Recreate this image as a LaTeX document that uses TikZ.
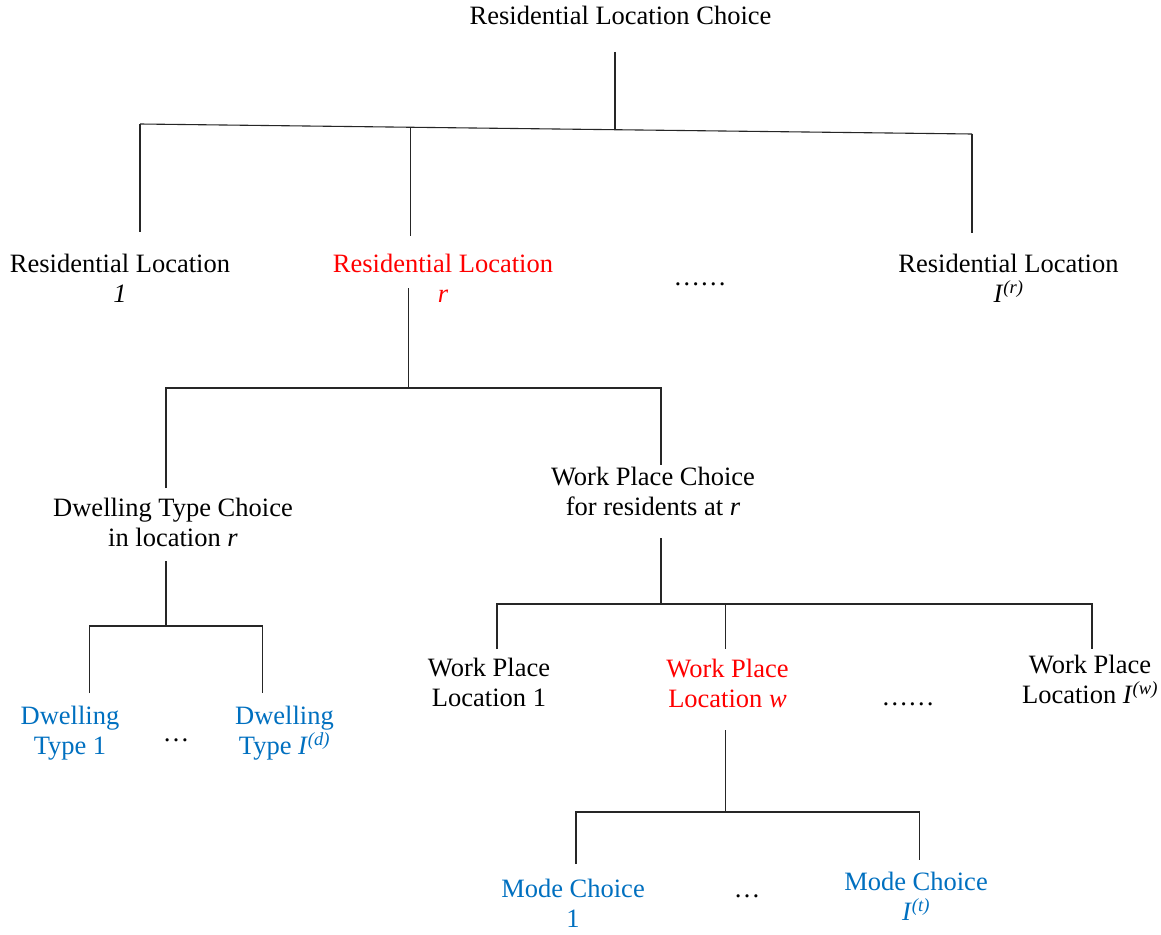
\documentclass[tikz,border=0pt]{standalone}
\usepackage{fontspec}
\setmainfont{Liberation Serif}
\definecolor{myred}{RGB}{255,0,0}
\definecolor{myblue}{RGB}{0,112,192}
\begin{document}
\begin{tikzpicture}[x=1pt,y=-1pt,
  lbl/.style={anchor=base, align=center, inner sep=0pt, font=\fontsize{26.5}{30.5}\selectfont},
  redlbl/.style={lbl, text=myred},
  bluelbl/.style={lbl, text=myblue},
  conn/.style={draw=black!85, line width=1.1pt}]
\useasboundingbox[fill=white] (0,0) rectangle (1161,934);

% ---- nodes (positions = baseline of last line) ----
\node[lbl] (root) at (620.5,25) {Residential Location Choice};
\node[lbl] (rl1) at (120,302.5) {Residential Location\\\textit{1}};
\node[redlbl] (rlr) at (443,302.5) {Residential Location\\\textit{r}};
\node[lbl] (dots1) at (700,285) {……};
\node[lbl] (rlI) at (1008.5,302.5) {Residential Location\\\textit{I}\textsuperscript{\textit{(r)}}};

\node[lbl] (dtc) at (173,546.5) {Dwelling Type Choice\\in location \textit{r}};
\node[lbl] (wpc) at (653,515.5) {Work Place Choice\\for residents at \textit{r}};

\node[bluelbl] (dt1) at (70,754.5) {Dwelling\\Type 1};
\node[lbl] (dots2) at (176,741) {…};
\node[bluelbl] (dtI) at (284.5,754.5) {Dwelling\\Type \textit{I}\textsuperscript{\textit{(d)}}};

\node[lbl] (wp1) at (489,706.5) {Work Place\\Location 1};
\node[redlbl] (wpw) at (727.5,707.5) {Work Place\\Location \textit{w}};
\node[lbl] (dots3) at (908,705) {……};
\node[lbl] (wpI) at (1090,703.5) {Work Place\\Location \textit{I}\textsuperscript{\textit{(w)}}};

\node[bluelbl] (mc1) at (573,927.5) {Mode Choice\\1};
\node[lbl] (dots4) at (747,897) {…};
\node[bluelbl] (mcI) at (916,920.5) {Mode Choice\\\textit{I}\textsuperscript{\textit{(t)}}};

% ---- junction coordinates ----
\coordinate (rootS) at (615,52);
\coordinate (barL) at (140,124);
\coordinate (barR) at (972,134);
\coordinate (barM) at (615,129.7);
\coordinate (barR2) at (410.7,127.3);
\coordinate (rl1N) at (140,232);
\coordinate (rlrN) at (410.7,236);
\coordinate (rlIN) at (972,233);

\coordinate (rlrS) at (408.5,288);
\coordinate (b2M) at (408.5,388);
\coordinate (b2L) at (166,388);
\coordinate (b2R) at (661,388);
\coordinate (dtcN) at (166,488);
\coordinate (wpcN) at (661,465);

\coordinate (dtcS) at (166,561);
\coordinate (b3M) at (166,626);
\coordinate (b3L) at (89.5,626);
\coordinate (b3R) at (262.5,626);
\coordinate (dt1N) at (89.5,693);
\coordinate (dtIN) at (262.5,693);

\coordinate (wpcS) at (661,538);
\coordinate (b4M) at (661,604);
\coordinate (b4L) at (497,604);
\coordinate (b4C) at (725.7,604);
\coordinate (b4R) at (1092,604);
\coordinate (wp1N) at (497,649);
\coordinate (wpwN) at (725.7,649);
\coordinate (wpIN) at (1092,649);

\coordinate (wpwS) at (725.7,730);
\coordinate (b5M) at (725.7,812);
\coordinate (b5L) at (576,812);
\coordinate (b5R) at (919.5,812);
\coordinate (mc1N) at (576,864);
\coordinate (mcIN) at (919.5,860);

% ---- connectors ----
\draw[conn] (rootS) -- (barM);
\draw[conn] (barL) -- (barR);
\draw[conn] (barL) -- (rl1N);
\draw[conn] (barR2) -- (rlrN);
\draw[conn] (barR) -- (rlIN);

\draw[conn] (rlrS) -- (b2M);
\draw[conn] (dtcN) -- (b2L) -- (b2R) -- (wpcN);

\draw[conn] (dtcS) -- (b3M);
\draw[conn] (dt1N) -- (b3L) -- (b3R) -- (dtIN);

\draw[conn] (wpcS) -- (b4M);
\draw[conn] (wp1N) -- (b4L) -- (b4R) -- (wpIN);
\draw[conn] (b4C) -- (wpwN);

\draw[conn] (wpwS) -- (b5M);
\draw[conn] (mc1N) -- (b5L) -- (b5R) -- (mcIN);
\end{tikzpicture}
\end{document}
